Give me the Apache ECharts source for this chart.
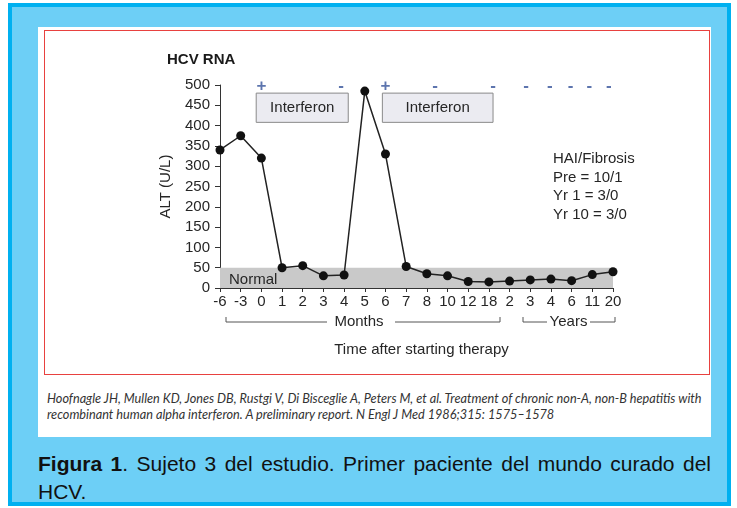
<!DOCTYPE html>
<html>
<head>
<meta charset="utf-8">
<script src="https://cdn.jsdelivr.net/npm/echarts@6/dist/echarts.min.js"></script>
<style>
  body { margin: 0; background: #fff; font-family: "Liberation Sans", Arial, sans-serif; }
  #frame { position: absolute; left: 8px; top: 3px; width: 715px; height: 495px; border: 4px solid #00b0f0; background: #6dcff6; }
  #panel { position: absolute; left: 38px; top: 27px; width: 673px; height: 410px; background: #fff; }
  #box { position: absolute; left: 44px; top: 30px; width: 664px; height: 343px; border: 1px solid #e8413f; }
  #mChart { position: absolute; left: 0; top: 0; width: 664px; height: 343px; }
  #cite { position: absolute; left: 47px; top: 390px; font-family: Lato, "Open Sans", sans-serif; font-style: italic; font-size: 12.7px; line-height: 16px; color: #333; white-space: nowrap; }
  #caption { position: absolute; left: 38px; top: 450px; width: 673px; font-size: 21px; line-height: 28px; color: #111; text-align: justify; }
</style>
</head>
<body>
<div id="frame"></div>
<div id="panel"></div>
<div id="box"><div id="mChart"></div></div>
<div id="cite">Hoofnagle JH, Mullen KD, Jones DB, Rustgi V, Di Bisceglie A, Peters M, et al. Treatment of chronic non-A, non-B hepatitis with<br>recombinant human alpha interferon. A preliminary report. N Engl J Med 1986;315: 1575&#8211;1578</div>
<div id="caption"><b>Figura 1</b>. Sujeto 3 del estudio. Primer paciente del mundo curado del HCV.</div>
<script>
// time points (months, then years)
var xLabels = ['-6', '-3', '0', '1', '2', '3', '4', '5', '6', '7', '8', '10', '12', '18', '2', '3', '4', '6', '11', '20'];
// ALT (U/L)
var altValues = [340, 375, 320, 50, 55, 30, 32, 485, 330, 53, 35, 30, 16, 15, 17, 20, 22, 18, 33, 40];
// normal range
var normalRange = [0, 50];
// interferon courses, in axis index units
var interferonRanges = [[1.75, 6.2], [7.85, 13.2]];
var interferonBand = [408, 480];
// HCV RNA result marks
var rnaPos = [2, 5.85, 8, 10.4, 13.2, 14.8, 15.95, 16.95, 17.85, 18.8];
var rnaSign = ['+', '-', '+', '-', '-', '-', '-', '-', '-', '-'];
var rnaLevel = 497;

var font = '"Liberation Sans", Arial, sans-serif';
var txt = '#262626';

var myChart = echarts.init(document.getElementById('mChart'));
myChart.setOption({
  animation: false,
  textStyle: { fontFamily: font },
  grid: { left: 175, right: 96, top: 54, bottom: 86 },
  xAxis: {
    type: 'value', min: 0, max: xLabels.length - 1, interval: 1,
    axisLine: { lineStyle: { color: '#333', width: 1 } },
    axisTick: { show: true, length: 4, lineStyle: { color: '#333' } },
    axisLabel: { color: txt, fontSize: 15, margin: 6, formatter: function (v) { return xLabels[v]; } },
    splitLine: { show: false }
  },
  yAxis: {
    type: 'value', min: 0, max: 500, interval: 50,
    name: 'ALT (U/L)', nameLocation: 'middle', nameRotate: 90, nameGap: 47,
    nameTextStyle: { color: txt, fontSize: 15 },
    axisLine: { show: true, lineStyle: { color: '#333', width: 1 } },
    axisTick: { show: true, length: 5, lineStyle: { color: '#333' } },
    axisLabel: { color: txt, fontSize: 15, margin: 10 },
    splitLine: { show: false }
  },
  series: [
    {
      type: 'line', data: [], z: 1, silent: true,
      markArea: {
        silent: true,
        itemStyle: { color: '#c9c9c9' },
        data: [[{ xAxis: 0, yAxis: normalRange[0] }, { xAxis: xLabels.length - 1, yAxis: normalRange[1] }]]
      }
    },
    {
      type: 'line', data: [], z: 2, silent: true,
      markArea: {
        silent: true,
        itemStyle: { color: '#ebebf1', borderColor: '#8a8a8a', borderWidth: 1 },
        label: { show: true, position: 'inside', color: txt, fontSize: 15, fontFamily: font },
        data: interferonRanges.map(function (r) {
          return [{ name: 'Interferon', xAxis: r[0], yAxis: interferonBand[0] }, { xAxis: r[1], yAxis: interferonBand[1] }];
        })
      }
    },
    {
      type: 'scatter', z: 3, silent: true, symbolSize: 0,
      data: rnaPos.map(function (p, i) { return [p, rnaLevel]; }),
      label: {
        show: true, position: 'inside', fontSize: 17, fontWeight: 'bold', color: '#34529a',
        formatter: function (p) { return rnaSign[p.dataIndex]; }
      }
    },
    {
      type: 'line', z: 5,
      data: altValues.map(function (v, i) { return [i, v]; }),
      symbol: 'circle', symbolSize: 9,
      itemStyle: { color: '#111' },
      lineStyle: { color: '#222', width: 1.5 }
    }
  ],
  graphic: [
    { type: 'text', z: 20, left: 122, top: 21, style: { text: 'HCV RNA', font: 'bold 15px ' + font, fill: '#1a1a1a' } },
    { type: 'text', z: 20, left: 184, top: 241, style: { text: 'Normal', font: '15px ' + font, fill: txt } },
    { type: 'text', z: 20, left: 508, top: 119, style: { text: 'HAI/Fibrosis\nPre = 10/1\nYr 1 = 3/0\nYr 10 = 3/0', font: '15px ' + font, fill: txt, lineHeight: 18.5 } },
    // Months bracket
    { type: 'polyline', shape: { points: [[181, 286], [181, 291], [282, 291]] }, style: { stroke: '#555', lineWidth: 1, fill: null } },
    { type: 'polyline', shape: { points: [[350, 291], [455, 291], [455, 286]] }, style: { stroke: '#555', lineWidth: 1, fill: null } },
    { type: 'text', x: 314, y: 291, style: { text: 'Months', font: '15px ' + font, fill: txt, align: 'center', verticalAlign: 'middle' } },
    // Years bracket
    { type: 'polyline', shape: { points: [[478, 286], [478, 291], [502, 291]] }, style: { stroke: '#555', lineWidth: 1, fill: null } },
    { type: 'polyline', shape: { points: [[545, 291], [570, 291], [570, 286]] }, style: { stroke: '#555', lineWidth: 1, fill: null } },
    { type: 'text', x: 523.5, y: 291, style: { text: 'Years', font: '15px ' + font, fill: txt, align: 'center', verticalAlign: 'middle' } },
    { type: 'text', x: 376.5, y: 319, style: { text: 'Time after starting therapy', font: '15px ' + font, fill: txt, align: 'center', verticalAlign: 'middle' } }
  ]
});
</script>
</body>
</html>
